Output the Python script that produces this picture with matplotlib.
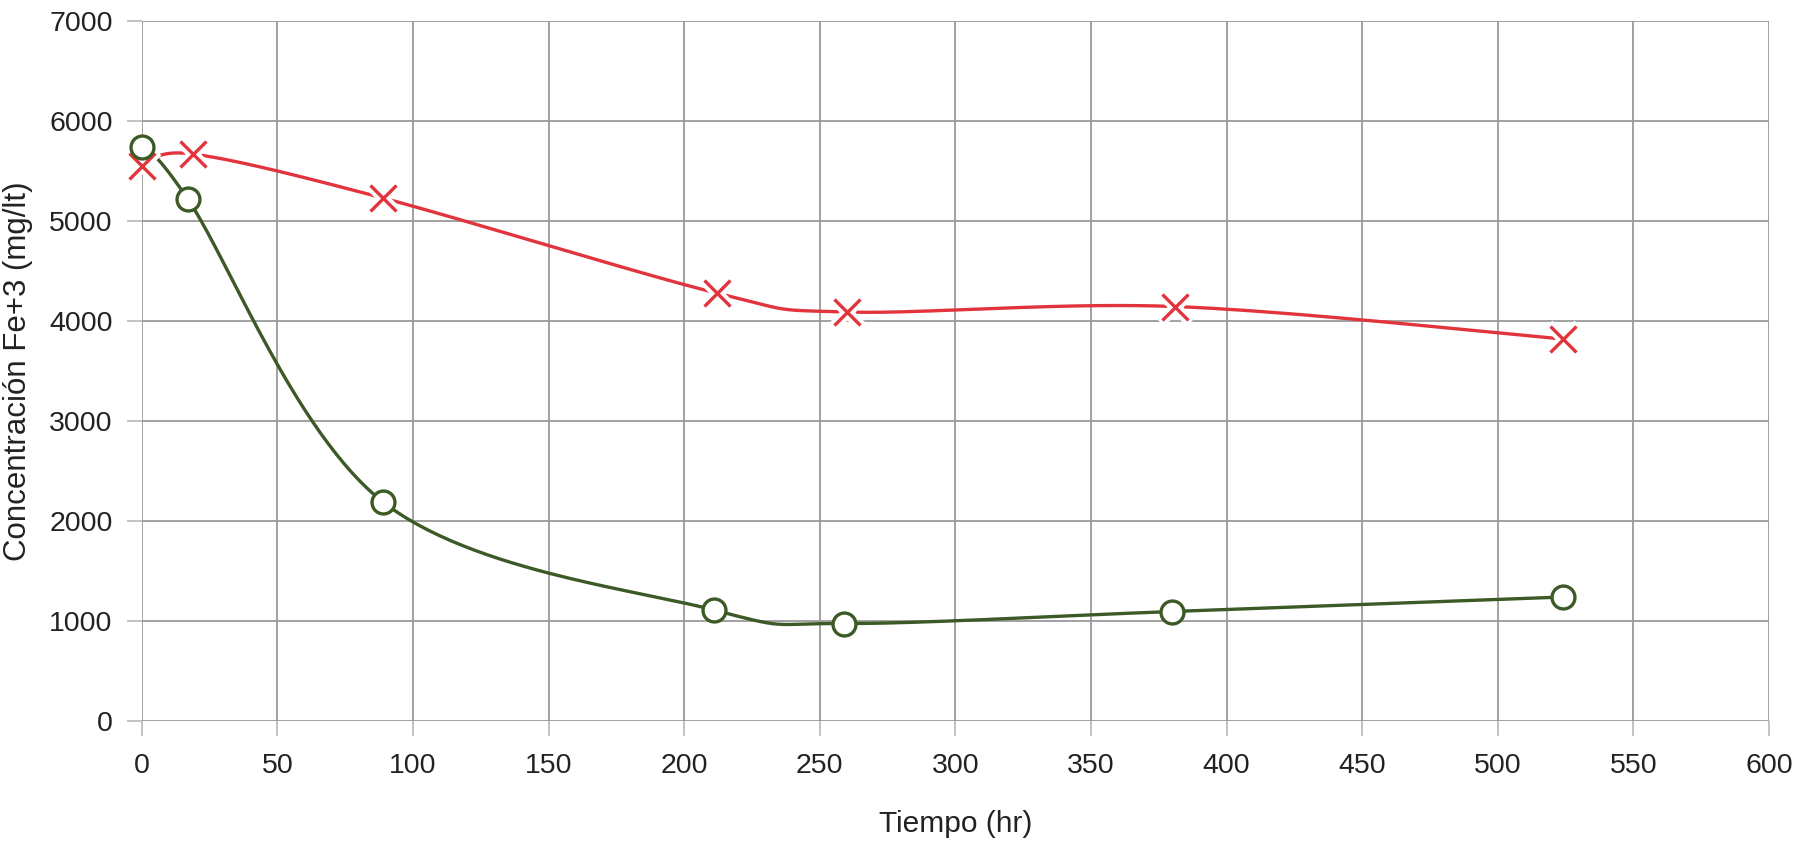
import numpy as np
import matplotlib
matplotlib.use("Agg")
import matplotlib.pyplot as plt

plt.rcParams['font.family'] = ['Liberation Sans', 'DejaVu Sans']

# Time (hr) and Fe+3 concentration (mg/lt) for the two series
tiempo_a = [0, 19, 89, 212, 260, 381, 524]
fe3_a = [5550, 5670, 5230, 4280, 4090, 4145, 3820]

tiempo_b = [0, 17, 89, 211, 259, 380, 524]
fe3_b = [5740, 5220, 2190, 1110, 975, 1095, 1240]

x_ticks = list(range(0, 601, 50))
y_ticks = list(range(0, 7001, 1000))


def smooth_curve(xs, ys, n=60):
    """Cubic Bezier smoothing through every point (spreadsheet-style)."""
    p = np.column_stack([xs, ys]).astype(float)
    ext = np.vstack([p[0], p, p[-1]])
    out = []
    t = np.linspace(0, 1, n)[:, None]
    for i in range(len(p) - 1):
        p0, p1, p2, p3 = ext[i], ext[i + 1], ext[i + 2], ext[i + 3]
        c1 = p1 + (p2 - p0) / 6.0
        c2 = p2 - (p3 - p1) / 6.0
        seg = ((1 - t) ** 3) * p1 + 3 * ((1 - t) ** 2) * t * c1 \
            + 3 * (1 - t) * t ** 2 * c2 + t ** 3 * p2
        out.append(seg if i == 0 else seg[1:])
    s = np.vstack(out)
    return s[:, 0], s[:, 1]


fig = plt.figure(figsize=(18.14, 8.42), dpi=100)
ax = fig.add_axes([0.0781, 0.1437, 0.8971, 0.8313])

red = '#e2343c'
green = '#3b5a26'

sx, sy = smooth_curve(tiempo_a, fe3_a)
ax.plot(sx, sy, color=red, lw=2.4, clip_on=False, zorder=3)
# white halo so the line stops short of each cross
ax.plot(tiempo_a, fe3_a, ls='none', marker='x', ms=21, mew=8,
        color='white', clip_on=False, zorder=4)
ax.plot(tiempo_a, fe3_a, ls='none', marker='x', ms=19, mew=2.4,
        color=red, clip_on=False, zorder=5)

sx, sy = smooth_curve(tiempo_b, fe3_b)
ax.plot(sx, sy, color=green, lw=2.4, clip_on=False, zorder=3)
ax.plot(tiempo_b, fe3_b, ls='none', marker='o', ms=16.5, mew=2.4,
        mfc='white', mec=green, clip_on=False, zorder=5)

ax.set_xlim(0, 600)
ax.set_ylim(0, 7000)
ax.set_xticks(x_ticks)
ax.set_yticks(y_ticks)
ax.grid(True, color='#9a9a9a', lw=1.3)
ax.set_axisbelow(True)
for s in ax.spines.values():
    s.set_visible(False)
ax.tick_params(axis='both', length=11, width=1.3, color='#bdbdbd',
               labelsize=20.5, labelcolor='#222222', pad=10)
ax.tick_params(axis='x', pad=12)

ax.set_xlabel('Tiempo (hr)', fontsize=21.5, color='#222222')
ax.xaxis.set_label_coords(0.5, -0.127)
ax.set_ylabel('Concentración Fe+3 (mg/lt)', fontsize=22.5, color='#222222')
ax.yaxis.set_label_coords(-0.0665, 0.5)

fig.savefig('out.png', dpi=100, facecolor='white')
